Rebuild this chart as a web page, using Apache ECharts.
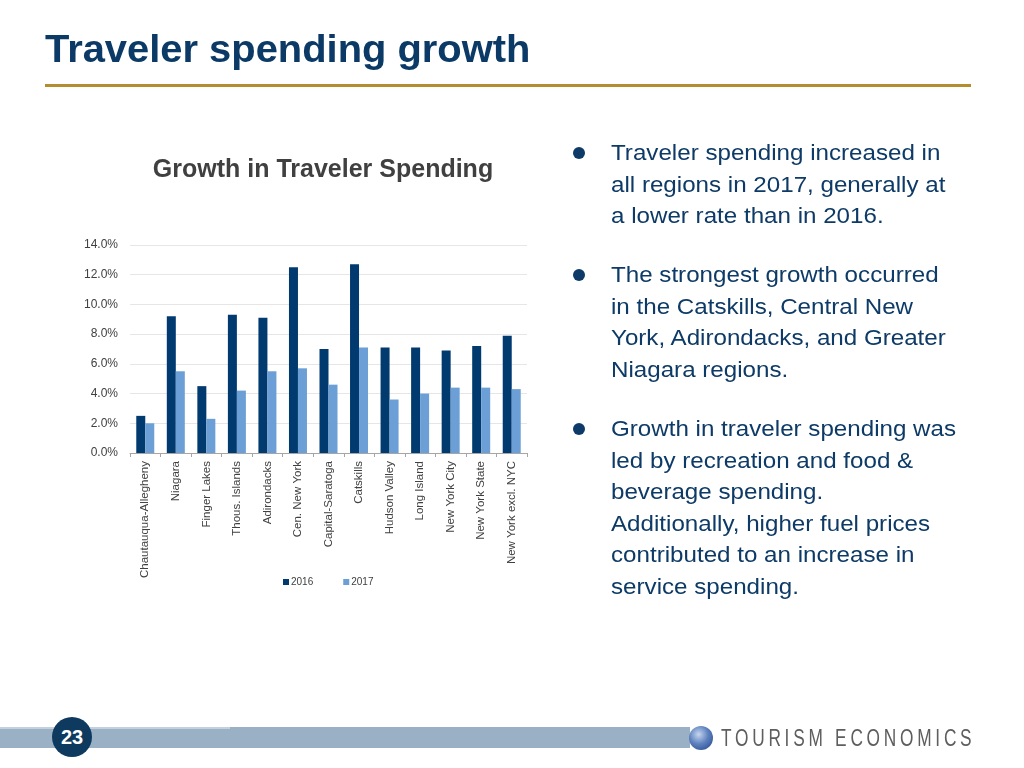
<!DOCTYPE html>
<html>
<head>
<meta charset="utf-8">
<script src="https://cdn.jsdelivr.net/npm/echarts@6/dist/echarts.min.js"></script>
<style>
  html, body { margin:0; padding:0; width:1024px; height:768px; background:#fff; overflow:hidden; font-family:"Liberation Sans", Arial, sans-serif; }
  #chart { position:absolute; left:0; top:0; width:1024px; height:768px; }
  .title { position:absolute; left:45px; top:30px; font-weight:bold; font-size:38.5px; line-height:1; color:#0b3a66; white-space:nowrap; transform:scaleX(1.036); transform-origin:0 0; }
  .rule { position:absolute; left:45px; top:84px; width:926px; height:3px; background:#b38d2e; }
  .bullets { position:absolute; left:578px; top:137px; width:440px; color:#0d3a66; font-size:22px; line-height:31.6px; }
  .bullets p { margin:0 0 27.4px 0; padding-left:33px; position:relative; }
  .bullets p::before { content:""; position:absolute; left:-5px; top:10px; width:12px; height:12px; border-radius:50%; background:#0d3a66; }
  .bullets span { display:block; white-space:nowrap; transform:scaleX(1.098); transform-origin:0 0; }
  .footbar { position:absolute; left:0; top:727px; width:690px; height:21px; background:#9ab0c5; }
  .footbar .lt { position:absolute; left:0; top:0; width:230px; height:2px; background:#c3d1de; }
  .pagenum { position:absolute; left:52px; top:717px; width:40px; height:40px; border-radius:50%; background:#0d3a5e; color:#fff; font-weight:bold; font-size:20px; line-height:40px; text-align:center; }
  .globe { position:absolute; left:689px; top:726px; width:24px; height:24px; border-radius:50%; background:radial-gradient(circle at 40% 35%, #c6d6ee 0%, #5e82bf 45%, #1f3f86 100%); }
  .logo { position:absolute; left:721px; top:726px; font-size:24px; line-height:1; letter-spacing:5.2px; color:#5e5e5e; white-space:nowrap; transform:scaleX(0.72); transform-origin:0 0; }
</style>
</head>
<body>
<div id="chart"></div>
<div class="title">Traveler spending growth</div>
<div class="rule"></div>
<div class="bullets">
  <p><span>Traveler spending increased in</span><span>all regions in 2017, generally at</span><span>a lower rate than in 2016.</span></p>
  <p><span>The strongest growth occurred</span><span>in the Catskills, Central New</span><span>York, Adirondacks, and Greater</span><span>Niagara regions.</span></p>
  <p><span>Growth in traveler spending was</span><span>led by recreation and food &amp;</span><span>beverage spending.</span><span>Additionally, higher fuel prices</span><span>contributed to an increase in</span><span>service spending.</span></p>
</div>
<div class="footbar"><div class="lt"></div></div>
<div class="pagenum">23</div>
<div class="globe"></div>
<div class="logo">TOURISM ECONOMICS</div>
<script>
const categories = ["Chautauqua-Allegheny","Niagara","Finger Lakes","Thous. Islands","Adirondacks","Cen. New York","Capital-Saratoga","Catskills","Hudson Valley","Long Island","New York City","New York State","New York excl. NYC"];
const values2016 = [2.5, 9.2, 4.5, 9.3, 9.1, 12.5, 7.0, 12.7, 7.1, 7.1, 6.9, 7.2, 7.9];
const values2017 = [2.0, 5.5, 2.3, 4.2, 5.5, 5.7, 4.6, 7.1, 3.6, 4.0, 4.4, 4.4, 4.3];
const seriesNames = ["2016", "2017"];

const chart = echarts.init(document.getElementById('chart'), null, {renderer:'canvas'});
const font = '"Liberation Sans", Arial, sans-serif';
chart.setOption({
  animation:false,
  title:{ text:'Growth in Traveler Spending', left:318, top:153, textAlign:'center',
    textStyle:{ fontFamily:font, fontSize:25, fontWeight:'bold', color:'#404040' } },
  legend:{ data:seriesNames, left:278, top:572, icon:'rect', itemWidth:6, itemHeight:6, itemGap:30,
    textStyle:{ fontFamily:font, fontSize:10, color:'#404040', padding:[0,0,0,-3] } },
  grid:{ left:130, right:497, top:245, bottom:315, containLabel:false },
  xAxis:{ type:'category', data:categories,
    axisLine:{ lineStyle:{ color:'#a6a6a6' } },
    axisTick:{ show:true, length:4, lineStyle:{ color:'#a6a6a6' } },
    axisLabel:{ rotate:90, interval:0, margin:8, fontFamily:font, fontSize:11.5, color:'#404040' } },
  yAxis:{ type:'value', min:0, max:14, interval:2,
    axisLine:{ show:false }, axisTick:{ show:false },
    splitLine:{ lineStyle:{ color:'#e6e6e6' } },
    axisLabel:{ formatter:v=>v.toFixed(1)+'%', fontFamily:font, fontSize:12, color:'#404040', margin:12 } },
  series:[
    { name:seriesNames[0], type:'bar', data:values2016, barWidth:9, barGap:'0%', itemStyle:{ color:'#003a6f' } },
    { name:seriesNames[1], type:'bar', data:values2017, barWidth:9, barGap:'0%', itemStyle:{ color:'#6b9fd6' } }
  ]
});
</script>
</body>
</html>
